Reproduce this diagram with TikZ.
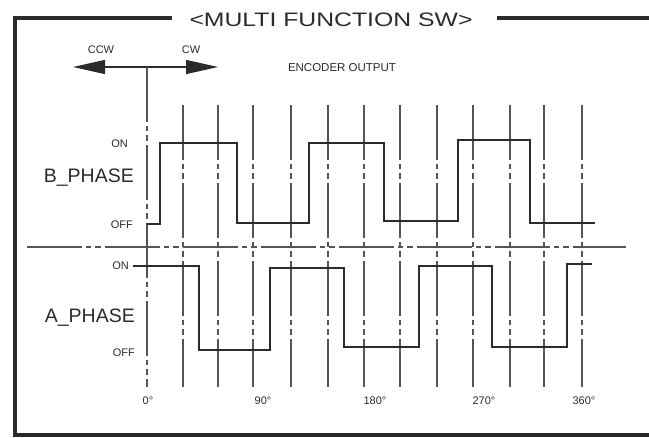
\documentclass[tikz,border=0pt]{standalone}
\usepackage{fontspec}
\setmainfont{Liberation Sans}
\usetikzlibrary{arrows.meta}
\definecolor{ink}{HTML}{2B2B2B}
\definecolor{grid}{HTML}{555555}
\begin{document}
\begin{tikzpicture}[x=1pt,y=-1pt,
  frame/.style={draw=ink,line width=4.6pt},
  gridline/.style={draw=grid,line width=1.3pt,dash pattern=on 55pt off 4pt on 5pt off 4pt on 6pt off 4pt},
  wave/.style={draw=ink,line width=1.3pt,line join=miter},
  small/.style={text=ink,font=\fontsize{11}{12}\selectfont,inner sep=0pt},
  big/.style={text=ink,font=\fontsize{19.5}{20}\selectfont,inner sep=0pt},
  dirarrow/.style={draw=ink,line width=1.3pt,{Triangle[length=32pt,width=14pt]}-{Triangle[length=32pt,width=14pt]}}]
\useasboundingbox (0,0) rectangle (649,438);
% frame
\draw[frame,line cap=butt] (172,18) -- (15,18) -- (15,435) -- (649,435);
\draw[frame,line cap=butt] (497,18) -- (649,18);
\node[big] (title) at (331,20) {\scalebox{1.27}[1]{<MULTI FUNCTION SW>}};
% direction arrow
\coordinate (ccw) at (73,67);
\coordinate (cw) at (218,67);
\coordinate (zerotop) at (147,67);
\coordinate (zerobot) at (147,387);
\draw[dirarrow] (ccw) -- (cw);
\node[small] (ccwlabel) at (101,50) {CCW};
\node[small] (cwlabel) at (191,50) {CW};
\node[small,font=\fontsize{11.5}{12}\selectfont] (enc) at (342,68) {ENCODER OUTPUT};
% grid lines
\draw[gridline] (zerotop) -- (zerobot);
\foreach \x in {183,218,253,291,328,364,400,437,473,510,544,582}
  \draw[gridline] (\x,105) -- (\x,387);
\coordinate (cl) at (27,247);
\coordinate (cr) at (626,247);
\draw[gridline] (cl) -- (cr);
% B phase
\draw[wave] (147,224) -- (160,224) -- (160,143) -- (237,143) -- (237,223) -- (309,223)
  -- (309,143) -- (384,143) -- (384,221) -- (458,221) -- (458,140) -- (530,140)
  -- (530,223) -- (595,223);
% A phase
\draw[wave] (133,266) -- (199,266) -- (199,350) -- (270,350) -- (270,268) -- (344,268)
  -- (344,347) -- (419,347) -- (419,266) -- (492,266) -- (492,347) -- (567,347)
  -- (567,264) -- (592,264);
% labels
\node[small,anchor=east] (bon) at (128,144) {ON};
\node[big,anchor=east] (bph) at (134,178) {B\_PHASE};
\node[small,anchor=east] (boff) at (133,225) {OFF};
\node[small,anchor=east] (aon) at (129,266) {ON};
\node[big,anchor=east] (aph) at (135,318) {A\_PHASE};
\node[small,anchor=east] (aoff) at (135,353) {OFF};
\node[small] (d0) at (148,401) {0°};
\node[small] (d90) at (263,401) {90°};
\node[small] (d180) at (375,401) {180°};
\node[small] (d270) at (484,401) {270°};
\node[small] (d360) at (584,401) {360°};
\end{tikzpicture}
\end{document}
